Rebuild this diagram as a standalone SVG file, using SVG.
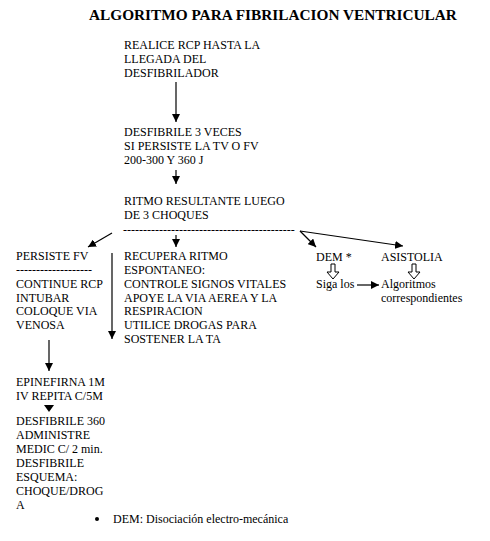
<svg xmlns="http://www.w3.org/2000/svg" width="490" height="541" viewBox="0 0 490 541">
<defs>
<style>
text{font-family:"Liberation Serif","Times New Roman",serif;font-size:12px;fill:#000}
.title{font-size:15.3px;font-weight:bold}
.ln{stroke:#000;stroke-width:1.2;fill:none}
.hol{stroke:#000;stroke-width:1;fill:#fff}
</style>
<marker id="ah" viewBox="0 0 10 10" refX="10" refY="5" markerWidth="8" markerHeight="8" markerUnits="userSpaceOnUse" orient="auto">
<path d="M0,0 L10,5 L0,10 Z" fill="#000"/>
</marker>
</defs>
<rect width="490" height="541" fill="#fff"/>
<text class="title" x="89" y="20">ALGORITMO PARA FIBRILACION VENTRICULAR</text>

<g id="n1">
<text x="124" y="49">REALICE RCP HASTA LA</text>
<text x="124" y="63">LLEGADA DEL</text>
<text x="124" y="77">DESFIBRILADOR</text>
</g>
<g id="n2">
<text x="124" y="136">DESFIBRILE 3 VECES</text>
<text x="124" y="150">SI PERSISTE LA TV O FV</text>
<text x="124" y="164">200-300 Y 360 J</text>
</g>
<g id="n3">
<text x="124" y="205">RITMO RESULTANTE LUEGO</text>
<text x="124" y="219">DE 3 CHOQUES</text>
<text x="123" y="234">-------------------------------------------</text>
</g>
<g id="n4">
<text x="16" y="260">PERSISTE FV</text>
<text x="16" y="274">-------------------</text>
<text x="16" y="288">CONTINUE RCP</text>
<text x="16" y="302">INTUBAR</text>
<text x="16" y="315">COLOQUE VIA</text>
<text x="16" y="329">VENOSA</text>
</g>
<g id="n5">
<text x="124" y="260">RECUPERA RITMO</text>
<text x="124" y="274">ESPONTANEO:</text>
<text x="124" y="288">CONTROLE SIGNOS VITALES</text>
<text x="124" y="302">APOYE LA VIA AEREA Y LA</text>
<text x="124" y="315">RESPIRACION</text>
<text x="124" y="329">UTILICE DROGAS PARA</text>
<text x="124" y="343">SOSTENER LA TA</text>
</g>
<g id="n6">
<text x="316" y="261">DEM *</text>
<text x="316" y="288">Siga los</text>
</g>
<g id="n7">
<text x="381" y="261">ASISTOLIA</text>
<text x="381" y="288">Algoritmos</text>
<text x="381" y="302">correspondientes</text>
</g>
<g id="n8">
<text x="16" y="386">EPINEFIRNA 1M</text>
<text x="16" y="400">IV REPITA C/5M</text>
</g>
<g id="n9">
<text x="16" y="425">DESFIBRILE 360</text>
<text x="16" y="439">ADMINISTRE</text>
<text x="16" y="453">MEDIC C/ 2 min.</text>
<text x="16" y="467">DESFIBRILE</text>
<text x="16" y="481">ESQUEMA:</text>
<text x="16" y="495">CHOQUE/DROG</text>
<text x="16" y="509">A</text>
</g>
<g id="note">
<circle cx="97" cy="519" r="2"/>
<text x="113" y="523">DEM: Disociación electro-mecánica</text>
</g>

<g id="connectors">
<line class="ln" x1="176" y1="82" x2="176" y2="122" marker-end="url(#ah)"/>
<line class="ln" x1="176" y1="170" x2="176" y2="184" marker-end="url(#ah)"/>
<line class="ln" x1="112" y1="233" x2="88" y2="247" marker-end="url(#ah)"/>
<line class="ln" x1="176" y1="235" x2="176" y2="247" marker-end="url(#ah)"/>
<line class="ln" x1="300" y1="231" x2="316" y2="247" marker-end="url(#ah)"/>
<line class="ln" x1="300" y1="231" x2="403" y2="246" marker-end="url(#ah)"/>
<line class="ln" x1="112" y1="253" x2="112" y2="339" marker-end="url(#ah)"/>
<line class="ln" x1="49" y1="340" x2="49" y2="371" marker-end="url(#ah)"/>
<path d="M44,405 L54,405 L49,412 Z" fill="#000"/>
<line class="ln" x1="357" y1="285" x2="379" y2="285" marker-end="url(#ah)"/>
<path class="hol" d="M331,264 L335,264 L335,272 L339,272 L333,279 L327,272 L331,272 Z"/>
<path class="hol" d="M412,264 L416,264 L416,272 L420,272 L414,279 L408,272 L412,272 Z"/>
</g>
</svg>
